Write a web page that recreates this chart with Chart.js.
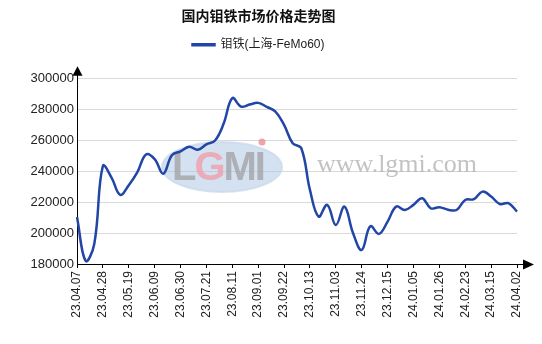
<!DOCTYPE html>
<html>
<head>
  <title>国内钼铁市场价格走势图</title>
  <meta charset="utf-8">
  <style>
    body { margin: 0; background: #fff; }
    #wrap { width: 542px; height: 344px; }
  </style>
  <script src="https://cdn.jsdelivr.net/npm/chart.js"></script>
</head>
<body>
  <div id="wrap"><canvas id="chart" width="542" height="344"></canvas></div>
  <script>
    const dates = [
      '23.04.07', '23.04.14', '23.04.21', '23.04.28', '23.05.05', '23.05.12',
      '23.05.19', '23.05.26', '23.06.02', '23.06.09', '23.06.16', '23.06.21',
      '23.06.30', '23.07.07', '23.07.14', '23.07.21', '23.07.28', '23.08.04',
      '23.08.11', '23.08.18', '23.08.25', '23.09.01', '23.09.08', '23.09.15',
      '23.09.22', '23.09.28', '23.10.08', '23.10.13', '23.10.20', '23.10.27',
      '23.11.03', '23.11.10', '23.11.17', '23.11.24', '23.12.01', '23.12.08',
      '23.12.15', '23.12.22', '23.12.29', '24.01.05', '24.01.12', '24.01.19',
      '24.01.26', '24.02.02', '24.02.08', '24.02.23', '24.03.01', '24.03.08',
      '24.03.15', '24.03.22', '24.03.29', '24.04.02'
    ];
    const femoPrices = [
      210500, 182000, 193000, 243500, 236000, 224800,
      231000, 239500, 251000, 248000, 238500, 250500,
      253000, 256000, 254000, 257500, 260000, 271000,
      287500, 282000, 283300, 284400, 281800, 278800,
      270200, 258300, 255000, 228000, 210700, 218300,
      205300, 217200, 199900, 189100, 204500, 199500,
      207500, 217200, 215000, 218300, 222600, 216100,
      216800, 215200, 215000, 221500, 222000, 226900,
      223700, 218900, 219400, 214000
    ];
    const yTicks = [180000, 200000, 220000, 240000, 260000, 280000, 300000];
    const labelEvery = 3;

    const latin = "'Liberation Sans', 'Noto Sans CJK SC', sans-serif";
    Chart.defaults.color = '#222';
    Chart.defaults.font.family = latin;

    // watermark (logo + site name) behind the line
    const watermark = {
      id: 'watermark',
      beforeDatasetsDraw(chart) {
        const c = chart.ctx;
        c.save();
        c.beginPath();
        c.ellipse(222, 167, 60, 25, 0, 0, Math.PI * 2);
        c.fillStyle = 'rgba(170,196,228,0.5)';
        c.fill();
        c.lineWidth = 2;
        c.strokeStyle = 'rgba(200,215,235,0.7)';
        c.stroke();
        c.font = "bold 40px 'Liberation Sans', sans-serif";
        c.textBaseline = 'alphabetic';
        const parts = [['L', 'rgba(160,160,160,0.75)'], ['G', 'rgba(240,160,170,0.8)'],
                       ['M', 'rgba(160,160,160,0.75)'], ['I', 'rgba(160,160,160,0.75)']];
        let x = 172;
        parts.forEach(([t, col]) => {
          c.fillStyle = col;
          c.fillText(t, x, 180);
          x += c.measureText(t).width - 2;
        });
        c.beginPath();
        c.arc(262, 142, 3.5, 0, Math.PI * 2);
        c.fillStyle = 'rgba(235,140,150,0.8)';
        c.fill();
        c.font = "26px 'Liberation Serif', serif";
        c.fillStyle = 'rgba(175,175,175,0.75)';
        c.fillText('www.lgmi.com', 317, 172);
        c.restore();
      }
    };

    // arrow heads on both axes
    const axisArrows = {
      id: 'axisArrows',
      afterDraw(chart) {
        const {left, right, top, bottom} = chart.chartArea;
        const c = chart.ctx;
        c.save();
        c.strokeStyle = '#000';
        c.fillStyle = '#000';
        c.lineWidth = 1;
        c.beginPath();
        c.moveTo(left + 0.5, top);
        c.lineTo(left + 0.5, top - 4);
        c.moveTo(right, bottom + 0.5);
        c.lineTo(right + 7, bottom + 0.5);
        c.stroke();
        c.beginPath();
        c.moveTo(left + 0.5, top - 12.5);
        c.lineTo(left - 4.5, top - 3);
        c.lineTo(left + 5.5, top - 3);
        c.closePath();
        c.fill();
        c.beginPath();
        c.moveTo(right + 17, bottom + 0.5);
        c.lineTo(right + 6, bottom - 4.5);
        c.lineTo(right + 6, bottom + 5.5);
        c.closePath();
        c.fill();
        c.restore();
      }
    };

    // extra gap under the legend
    const legendGap = {
      id: 'legendGap',
      beforeInit(chart) {
        const fit = chart.legend.fit;
        chart.legend.fit = function () {
          fit.bind(chart.legend)();
          this.height += 18;
        };
      }
    };

    const ctx = document.getElementById('chart').getContext('2d');
    new Chart(ctx, {
      type: 'line',
      data: {
        labels: dates,
        datasets: [{
          label: '钼铁(上海-FeMo60)',
          data: femoPrices,
          borderColor: '#2146a5',
          backgroundColor: '#2146a5',
          borderWidth: 2.5,
          pointRadius: 0,
          tension: 0.4,
          fill: false
        }]
      },
      options: {
        responsive: false,
        animation: false,
        devicePixelRatio: 1,
        layout: {padding: {left: 0, right: 25, top: 0, bottom: 0}},
        plugins: {
          title: {
            display: true,
            text: '国内钼铁市场价格走势图',
            color: '#111',
            font: {size: 14, weight: 'bold', family: "'Noto Sans CJK SC', sans-serif"},
            padding: {top: 7, bottom: 5}
          },
          legend: {
            display: true,
            labels: {
              boxWidth: 22,
              boxHeight: 1,
              padding: 10,
              color: '#222',
              font: {size: 12, family: latin}
            }
          },
          tooltip: {enabled: false}
        },
        scales: {
          x: {
            afterFit(s) { s.height = 80; },
            border: {color: '#000', width: 1},
            grid: {
              drawOnChartArea: false,
              tickLength: 4,
              color: (c) => (c.index % labelEvery === 0 ? '#000' : 'rgba(0,0,0,0)')
            },
            ticks: {
              autoSkip: false,
              maxRotation: 90,
              minRotation: 90,
              padding: 3,
              font: {size: 12},
              color: '#222',
              callback: (v, i) => (i % labelEvery === 0 ? dates[i] : '')
            }
          },
          y: {
            min: yTicks[0],
            max: yTicks[yTicks.length - 1],
            afterFit(s) { s.width = 77; },
            afterBuildTicks(s) { s.ticks = yTicks.map(v => ({value: v})); },
            border: {color: '#000', width: 1},
            grid: {color: '#d9d9d9', drawTicks: false},
            ticks: {
              padding: 3,
              font: {size: 13},
              color: '#222',
              callback: (v) => String(v)
            }
          }
        }
      },
      plugins: [watermark, axisArrows, legendGap]
    });
  </script>
</body>
</html>
